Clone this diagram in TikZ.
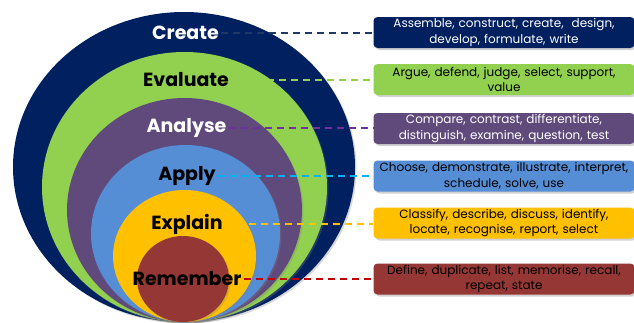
\documentclass[tikz,border=0pt]{standalone}
\usepackage{fontspec}
\setmainfont{Poppins}
\usetikzlibrary{shadows}
\definecolor{cnavy}{HTML}{002060}
\definecolor{cgreen}{HTML}{92D050}
\definecolor{cpurple}{HTML}{604A7B}
\definecolor{cblue}{HTML}{558ED5}
\definecolor{cyellow}{HTML}{FFC000}
\definecolor{cred}{HTML}{953735}
\definecolor{dnavy}{HTML}{203864}
\definecolor{dgreen}{HTML}{92D050}
\definecolor{dpurple}{HTML}{7030A0}
\definecolor{dblue}{HTML}{00B0F0}
\definecolor{dyellow}{HTML}{FFC000}
\definecolor{dred}{HTML}{C00000}
\tikzset{
  ring/.style={drop shadow={opacity=0.3, shadow xshift=1.5pt, shadow yshift=-1.5pt}},
  lab/.style={font=\bfseries\fontsize{19}{19}\selectfont, inner sep=2pt},
  box/.style={rounded corners=4pt, minimum width=261pt, minimum height=31pt,
    text width=258pt, align=center, inner sep=0pt,
    font=\fontsize{12}{15.5}\selectfont,
    drop shadow={opacity=0.35, shadow xshift=2pt, shadow yshift=-2pt}},
  link/.style={dashed, dash pattern=on 7pt off 5pt, line width=1.3pt}
}
\begin{document}
\begin{tikzpicture}[x=1pt,y=-1pt]
\useasboundingbox (0,0) rectangle (634,322);
\clip (0,0) rectangle (634,322);
\fill[white] (0,0) rectangle (634,322);
% rings
\fill[cnavy, ring] (184,167) ellipse [x radius=171pt, y radius=155pt];
\fill[cgreen, ring] (184.5,187) ellipse [x radius=142.5pt, y radius=135pt];
\fill[cpurple, ring] (184.5,210) ellipse [x radius=117.5pt, y radius=112pt];
\fill[cblue, ring] (185.5,233.5) ellipse [x radius=94.5pt, y radius=88.5pt];
\fill[cyellow, ring] (184.5,256) ellipse [x radius=71.5pt, y radius=66pt];
\fill[cred, ring] (183,279) ellipse [x radius=46pt, y radius=43pt];
% labels
\node[lab, text=white] (create) at (185.5,33) {Create};
\node[lab, text=black] (evaluate) at (186,80) {Evaluate};
\node[lab, text=white] (analyse) at (186.5,128) {Analyse};
\node[lab, text=black] (apply) at (187,176) {Apply};
\node[lab, text=black] (explain) at (187,224) {Explain};
\node[lab, text=black] (remember) at (187,279) {Remember};
% boxes
\node[box, fill=cnavy, text=white] (bcreate) at (504,32.5) {Assemble, construct, create,\ \ design,\\develop, formulate, write};
\node[box, fill=cgreen, text=black] (bevaluate) at (504,79.5) {Argue, defend, judge, select, support,\\value};
\node[box, fill=cpurple, text=white] (banalyse) at (504,128.5) {Compare, contrast, differentiate,\\distinguish, examine, question, test};
\node[box, fill=cblue, text=black] (bapply) at (504,176) {Choose, demonstrate, illustrate, interpret,\\schedule, solve, use};
\node[box, fill=cyellow, text=black] (bexplain) at (504,223) {Classify, describe, discuss, identify,\\locate, recognise, report, select};
\node[box, fill=cred, text=black] (bremember) at (504,279) {Define, duplicate, list, memorise, recall,\\repeat, state};
% connectors
\draw[link, dnavy] (create.east) -- (create.east -| bcreate.west);
\draw[link, dgreen] (evaluate.east) -- (evaluate.east -| bevaluate.west);
\draw[link, dpurple] (analyse.east) -- (analyse.east -| banalyse.west);
\draw[link, dblue] (apply.east) -- (apply.east -| bapply.west);
\draw[link, dyellow] (explain.east) -- (explain.east -| bexplain.west);
\draw[link, dred] (remember.east) -- (remember.east -| bremember.west);
\end{tikzpicture}
\end{document}
